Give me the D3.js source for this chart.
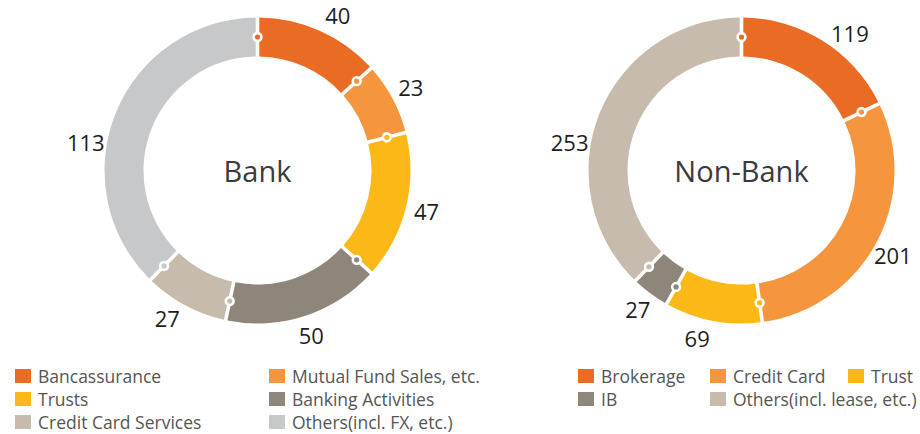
<!DOCTYPE html>
<html>
<head>
<meta charset="utf-8">
<script src="https://cdn.jsdelivr.net/npm/d3@7"></script>
<style>
  html, body { margin: 0; padding: 0; background: #fff; }
  svg { display: block; }
  text { font-family: "Open Sans", "Noto Sans", sans-serif; }
</style>
</head>
<body>
<svg id="chart" width="920" height="434"></svg>
<script>
// ---- data ----
const bankCategories = ["Bancassurance", "Mutual Fund Sales, etc.", "Trusts", "Banking Activities", "Credit Card Services", "Others(incl. FX, etc.)"];
const bankValues = [40, 23, 47, 50, 27, 113];
const nonBankCategories = ["Brokerage", "Credit Card", "Trust", "IB", "Others(incl. lease, etc.)"];
const nonBankValues = [119, 201, 69, 27, 253];
const chartTitles = ["Bank", "Non-Bank"];

// ---- styles / layout ----
const bankColors = ["#EA6C24", "#F5953D", "#FBB817", "#8E857B", "#C6BBAC", "#C7C8CA"];
const nonBankColors = ["#EA6C24", "#F5953D", "#FBB817", "#8E857B", "#C6BBAC"];
// angular nudges (degrees) for the value labels
const bankLabelNudge = [3.5, 0, 0, 0, 3, -13];
const nonBankLabelNudge = [6.5, 1.4, 4, 0, -13];

const svg = d3.select("#chart");
const outerR = 153, innerR = 114, midR = (outerR + innerR) / 2;
const labelR = 174;

function donut(cx, cy, title, cats, vals, colors, nudges) {
  const g = svg.append("g").attr("transform", `translate(${cx},${cy})`);
  const data = cats.map((c, i) => ({ cat: c, value: vals[i], color: colors[i], nudge: nudges[i] }));
  const pie = d3.pie().value(d => d.value).sort(null);
  const arcs = pie(data);
  const arc = d3.arc().innerRadius(innerR).outerRadius(outerR)
    .padRadius(midR).padAngle(3.6 / midR);

  g.selectAll("path.seg").data(arcs).join("path")
    .attr("class", "seg")
    .attr("d", arc)
    .attr("fill", d => d.data.color);

  // boundary markers at the start of each segment
  const mk = g.selectAll("g.mk").data(arcs).join("g")
    .attr("class", "mk")
    .attr("transform", d => {
      const a = d.startAngle;
      return `translate(${midR * Math.sin(a)},${-midR * Math.cos(a)})`;
    });
  mk.append("circle").attr("r", 5.2).attr("fill", "#fff");
  mk.append("circle").attr("r", 2.6).attr("fill", d => d.data.color);

  // value labels
  const ang = d => (d.startAngle + d.endAngle) / 2 + d.data.nudge * Math.PI / 180;
  g.selectAll("text.val").data(arcs).join("text")
    .attr("class", "val")
    .attr("x", d => labelR * Math.sin(ang(d)))
    .attr("y", d => -labelR * Math.cos(ang(d)))
    .attr("text-anchor", "middle")
    .attr("dy", "0.36em")
    .attr("font-size", 22)
    .attr("fill", "#1e1e1e")
    .text(d => d.data.value);

  g.append("text")
    .attr("text-anchor", "middle")
    .attr("dy", "0.36em")
    .attr("y", 1)
    .attr("font-size", 29)
    .attr("fill", "#3b3b3b")
    .text(title);
}

donut(257.5, 170.5, chartTitles[0], bankCategories, bankValues, bankColors, bankLabelNudge);
donut(741.5, 170.5, chartTitles[1], nonBankCategories, nonBankValues, nonBankColors, nonBankLabelNudge);

// ---- legends ----
function legend(x0, colX, cols, cats, colors) {
  const items = cats.map((c, i) => ({ cat: c, color: colors[i], col: i % cols, row: Math.floor(i / cols) }));
  const g = svg.append("g");
  const it = g.selectAll("g.li").data(items).join("g")
    .attr("class", "li")
    .attr("transform", d => `translate(${x0 + colX[d.col]},${369 + d.row * 23})`);
  it.append("rect").attr("width", 16).attr("height", 14).attr("fill", d => d.color);
  it.append("text").attr("x", 23).attr("y", 13.5)
    .attr("font-size", 17.5).attr("fill", "#555")
    .text(d => d.cat);
}
legend(15, [0, 254], 2, bankCategories, bankColors);
legend(578, [0, 132, 270], 3, nonBankCategories, nonBankColors);
</script>
</body>
</html>
